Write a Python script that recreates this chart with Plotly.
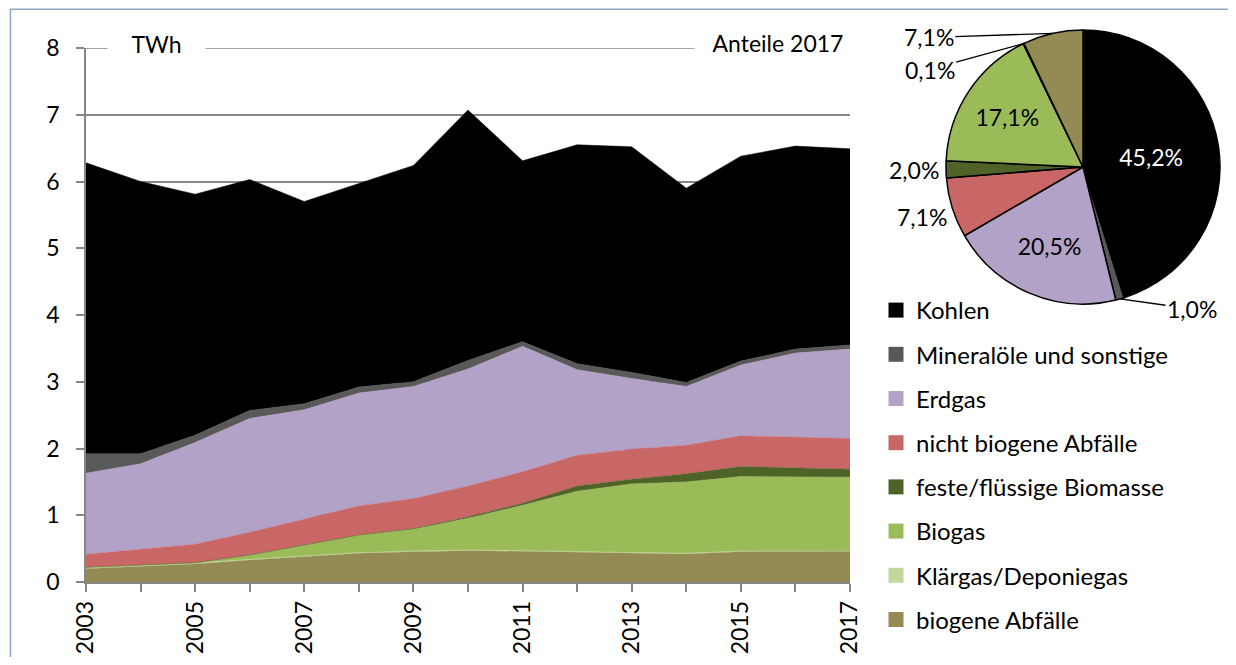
import numpy as np
import plotly.graph_objects as go

# page body keeps its 8px margin, so the figure is drawn 8px in from the edges
OFF = 8
W, H = 1236 - 2 * OFF, 665 - 2 * OFF
FONT = "Lato"

# ── Data ───────────────────────────────────────────────────────────────────────
years = list(range(2003, 2018))
labelled_years = [2003, 2005, 2007, 2009, 2011, 2013, 2015, 2017]
y_ticks = [0, 1, 2, 3, 4, 5, 6, 7, 8]

# TWh per energy source (stacked bottom -> top in the chart)
biogene_abfaelle = [0.20, 0.23, 0.27, 0.33, 0.38, 0.43, 0.455, 0.47, 0.46, 0.445, 0.43, 0.42, 0.455, 0.455, 0.46]
klaergas = [0.015, 0.015, 0.01, 0.01, 0.01, 0.01, 0.01, 0.01, 0.01, 0.01, 0.01, 0.01, 0.01, 0.01, 0.006]
biogas = [0.005, 0.005, 0.005, 0.06, 0.16, 0.26, 0.325, 0.475, 0.68, 0.905, 1.03, 1.07, 1.115, 1.11, 1.104]
feste_biomasse = [0.0, 0.0, 0.005, 0.005, 0.005, 0.005, 0.01, 0.02, 0.03, 0.08, 0.07, 0.12, 0.15, 0.135, 0.12]
nicht_biogene = [0.195, 0.24, 0.275, 0.34, 0.385, 0.435, 0.45, 0.465, 0.47, 0.46, 0.45, 0.43, 0.46, 0.46, 0.46]
erdgas = [1.215, 1.28, 1.525, 1.705, 1.64, 1.69, 1.68, 1.75, 1.88, 1.28, 1.06, 0.88, 1.06, 1.26, 1.34]
mineraloele = [0.29, 0.15, 0.11, 0.12, 0.09, 0.09, 0.07, 0.13, 0.07, 0.09, 0.09, 0.06, 0.06, 0.06, 0.06]
kohlen = [4.36, 4.08, 3.61, 3.46, 3.03, 3.05, 3.24, 3.75, 2.71, 3.28, 3.38, 2.91, 3.07, 3.04, 2.94]

# legend / pie order (top of stack first)
source_names = ["Kohlen", "Mineralöle und sonstige", "Erdgas", "nicht biogene Abfälle",
                "feste/flüssige Biomasse", "Biogas", "Klärgas/Deponiegas", "biogene Abfälle"]
source_values = [kohlen, mineraloele, erdgas, nicht_biogene,
                 feste_biomasse, biogas, klaergas, biogene_abfaelle]
share_2017 = [45.2, 1.0, 20.5, 7.1, 2.0, 17.1, 0.1, 7.1]

COLORS = ["#000000", "#595959", "#B3A2C7", "#C96766",
          "#4F6228", "#9BBB59", "#C3D69B", "#948A54"]

GRID = "#868686"
FS = 23  # general text size


def px_x(px):
    # window pixel -> paper fraction
    return (px - OFF) / W


def px_y(py):
    return 1 - (py - OFF) / H


fig = go.Figure()

# ── Stacked area (bottom layer first) ──────────────────────────────────────────
for name, vals, col in reversed(list(zip(source_names, source_values, COLORS))):
    fig.add_trace(go.Scatter(
        x=years, y=vals, stackgroup="one", mode="lines",
        line=dict(width=0.5, color=col), fillcolor=col,
        name=name, showlegend=False, hoverinfo="x+y+name",
    ))

# ── Legend entries (square markers, Kohlen on top) ─────────────────────────────
for i, (name, col) in enumerate(zip(source_names, COLORS)):
    fig.add_trace(go.Scatter(
        x=[None], y=[None], mode="markers",
        marker=dict(symbol="square", size=15, color=col),
        name=name, legendgroup=f"g{i}", showlegend=True,
    ))

# ── Pie 2017 ───────────────────────────────────────────────────────────────────
INSIDE = {0, 2, 5}
pct_text = [f"{v:.1f}%".replace(".", ",") for v in share_2017]
fig.add_trace(go.Pie(
    labels=source_names, values=share_2017,
    sort=False, direction="clockwise", rotation=0,
    marker=dict(colors=COLORS, line=dict(color="black", width=1.5)),
    text=[t if i in INSIDE else "" for i, t in enumerate(pct_text)],
    texttemplate="%{text}", textposition="inside",
    insidetextorientation="horizontal",
    insidetextfont=dict(family=FONT, size=FS,
                        color=["white" if i == 0 else "black" for i in range(8)]),
    domain=dict(x=[px_x(946), px_x(1220)], y=[px_y(304), px_y(30)]),
    showlegend=False, hoverinfo="label+percent",
))

# outside pie labels, positioned from the slice angles
CX, CY, R = 1083, 167, 137
total = sum(share_2017)
cum = np.cumsum([0] + share_2017)
# index -> text offset in px relative to slice edge (leader line), or None
OUTSIDE = {1: (72, 10), 3: None, 4: None, 6: (-94, 26), 7: (-124, 4)}
for i, spec in OUTSIDE.items():
    th = 2 * np.pi * (cum[i] + share_2017[i] / 2) / total
    ex, ey = CX + R * np.sin(th), CY - R * np.cos(th)
    if spec is None:
        lx, ly = CX + (R + 32) * np.sin(th), CY - (R + 32) * np.cos(th)
        fig.add_annotation(x=px_x(lx), y=px_y(ly), xref="paper", yref="paper",
                           xanchor="center", yanchor="middle",
                           text=pct_text[i], showarrow=False,
                           font=dict(family=FONT, size=FS, color="black"))
    else:
        dx, dy = spec
        fig.add_annotation(x=px_x(ex), y=px_y(ey), xref="paper", yref="paper",
                           text=pct_text[i], showarrow=True, arrowhead=0,
                           arrowwidth=1.3, arrowcolor="black", ax=dx, ay=dy,
                           font=dict(family=FONT, size=FS, color="black"))

# top gridline at 8 (plotly skips the grid on the range edge)
fig.add_shape(type="line", xref="paper", yref="y",
              x0=px_x(76), x1=px_x(850), y0=8, y1=8,
              line=dict(color=GRID, width=1.5), layer="below")

# ── Labels on the top gridline ─────────────────────────────────────────────────
fig.add_annotation(x=px_x(156), y=px_y(44), xref="paper", yref="paper",
                   xanchor="center", yanchor="middle",
                   text="TWh", showarrow=False, bgcolor="white",
                   borderpad=2, width=93,
                   font=dict(family=FONT, size=FS, color="black"))
fig.add_annotation(x=px_x(778), y=px_y(43), xref="paper", yref="paper",
                   xanchor="center", yanchor="middle",
                   text="Anteile 2017", showarrow=False, bgcolor="white",
                   borderpad=2, width=162,
                   font=dict(family=FONT, size=FS, color="black"))

# outer border of the chart area
fig.add_shape(type="rect", xref="paper", yref="paper",
              x0=0.002, x1=1.02, y0=-0.02, y1=0.998,
              line=dict(color="#8EA5C3", width=1.5), layer="above")

# ── Layout ─────────────────────────────────────────────────────────────────────
fig.update_layout(
    width=W, height=H,
    margin=dict(l=0, r=0, t=0, b=0, autoexpand=False),
    paper_bgcolor="white", plot_bgcolor="white",
    font=dict(family=FONT, size=FS, color="black"),
    xaxis=dict(
        domain=[px_x(86), px_x(850)], range=[2003, 2017],
        tickvals=years,
        ticktext=[str(y) if y in labelled_years else "" for y in years],
        tickangle=-90, ticks="outside", ticklen=8, tickcolor=GRID, tickwidth=1.5,
        showline=True, linecolor=GRID, linewidth=1.5,
        showgrid=False, zeroline=False, automargin=False,
        tickfont=dict(family=FONT, size=23, color="black"),
    ),
    yaxis=dict(
        domain=[px_y(582), px_y(48)], range=[0, 8],
        tickvals=y_ticks,
        ticks="outside", ticklen=8, tickcolor=GRID, tickwidth=1.5,
        showline=True, linecolor=GRID, linewidth=1.5,
        showgrid=True, gridcolor=GRID, gridwidth=1.5, zeroline=False,
        automargin=False, ticklabelstandoff=12,
        tickfont=dict(family=FONT, size=23, color="black"),
    ),
    legend=dict(
        x=px_x(876), y=px_y(288), xanchor="left", yanchor="top",
        traceorder="grouped", tracegroupgap=10, itemwidth=30,
        font=dict(family=FONT, size=24, color="black"),
        bgcolor="rgba(0,0,0,0)",
    ),
)

fig.write_html("out.html")
